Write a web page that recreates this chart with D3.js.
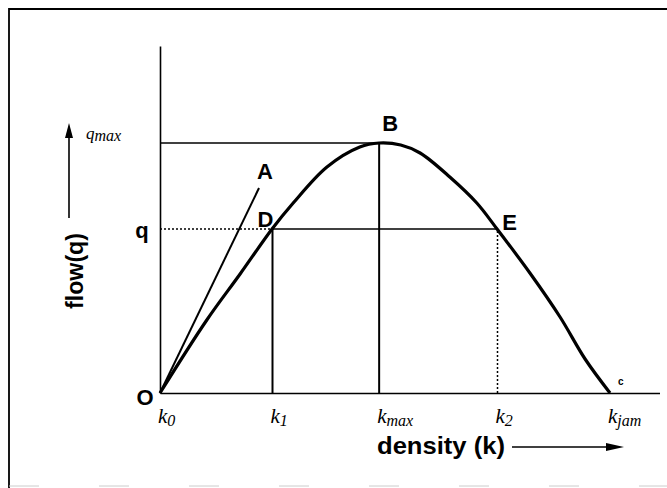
<!DOCTYPE html>
<html>
<head>
<meta charset="utf-8">
<script src="https://cdn.jsdelivr.net/npm/d3@7"></script>
<style>
  body { margin: 0; background: #fff; }
  .bold { font-family: "Liberation Sans", Arial, sans-serif; font-weight: bold; fill: #000; }
  .ital { font-family: "Liberation Serif", "Times New Roman", serif; font-style: italic; fill: #000; }
  .domain { stroke: #000; stroke-width: 1.6px; }
</style>
</head>
<body>
<script>
// density in % of k_jam, flow in % of q_max
const curveK = [0, 10.4, 17.8, 24.9, 29.6, 37.1, 44.4, 48.7, 53.5, 57.8, 64.4, 70.4, 74.9, 82.2, 88.9, 94.5, 100],
      curveQ = [0, 29.2, 47.6, 65.6, 76, 90.4, 98.4, 100, 99.2, 96, 86.4, 76, 65.6, 48, 30.4, 13.5, 0];

const tickNames = ['k0', 'k1', 'kmax', 'k2', 'kjam'],
      tickBase = ['k', 'k', 'k', 'k', 'k'],
      tickSub = ['0', '1', 'max', '2', 'jam'],
      tickK = [0, 25, 48.7, 75, 100];

const qValue = 65.6,
      qMax = 100,
      lineA = [[0, 0], [22, 82]];

const width = 667,
      height = 488;

const xScale = d3.scaleLinear().domain([0, 111]).range([160, 659.5]),
      yScale = d3.scaleLinear().domain([0, 138.8]).range([393, 46]);

const svg = d3.select('body')
              .append('svg')
              .attr('width', width)
              .attr('height', height);

// frame
svg.append('path')
   .attr('d', 'M9,488 V9 H667')
   .attr('fill', 'none')
   .attr('stroke', '#000')
   .attr('stroke-width', 1.8);

svg.append('line')
   .attr('x1', 9).attr('x2', 667)
   .attr('y1', 486).attr('y2', 486)
   .attr('stroke', '#ccc')
   .attr('stroke-width', 1)
   .attr('stroke-dasharray', '30,60');

// axes
svg.append('g')
   .attr('transform', 'translate(0,' + yScale(0) + ')')
   .call(d3.axisBottom(xScale).tickValues([]).tickSizeOuter(0));

svg.append('g')
   .attr('transform', 'translate(' + xScale(0) + ',0)')
   .call(d3.axisLeft(yScale).tickValues([]).tickSizeOuter(0));

// guide lines
const kMax = tickK[2], k1 = tickK[1], k2 = tickK[3];

svg.append('line')
   .attr('x1', xScale(0)).attr('x2', xScale(kMax))
   .attr('y1', yScale(qMax)).attr('y2', yScale(qMax))
   .attr('stroke', '#000').attr('stroke-width', 1.5);

svg.append('line')
   .attr('x1', xScale(0)).attr('x2', xScale(k1))
   .attr('y1', yScale(qValue)).attr('y2', yScale(qValue))
   .attr('stroke', '#000').attr('stroke-width', 1.5)
   .attr('stroke-dasharray', '2,2');

svg.append('line')
   .attr('x1', xScale(k1)).attr('x2', xScale(k2))
   .attr('y1', yScale(qValue)).attr('y2', yScale(qValue))
   .attr('stroke', '#000').attr('stroke-width', 1.5);

[k1, kMax].forEach(function(k) {
  svg.append('line')
     .attr('x1', xScale(k)).attr('x2', xScale(k))
     .attr('y1', yScale(0)).attr('y2', yScale(k === kMax ? qMax : qValue))
     .attr('stroke', '#000').attr('stroke-width', 2);
});

svg.append('line')
   .attr('x1', xScale(k2)).attr('x2', xScale(k2))
   .attr('y1', yScale(0)).attr('y2', yScale(qValue))
   .attr('stroke', '#000').attr('stroke-width', 1.5)
   .attr('stroke-dasharray', '2,2');

// tangent O-A
svg.append('line')
   .attr('x1', xScale(lineA[0][0])).attr('y1', yScale(lineA[0][1]))
   .attr('x2', xScale(lineA[1][0])).attr('y2', yScale(lineA[1][1]))
   .attr('stroke', '#000').attr('stroke-width', 2);

// flow-density curve
const line = d3.line()
               .x((d, i) => xScale(curveK[i]))
               .y((d, i) => yScale(curveQ[i]))
               .curve(d3.curveCatmullRom);

svg.append('path')
   .datum(curveK)
   .attr('d', line)
   .attr('fill', 'none')
   .attr('stroke', '#000')
   .attr('stroke-width', 3.2);

// point labels
const pointLabels = [
  { t: 'A', x: xScale(lineA[1][0]) + 6, y: yScale(lineA[1][1]) - 17 },
  { t: 'B', x: xScale(kMax) + 11, y: yScale(qMax) - 20 },
  { t: 'D', x: xScale(k1) - 7, y: yScale(qValue) - 10 },
  { t: 'E', x: xScale(k2) + 12, y: yScale(qValue) - 7 },
  { t: 'O', x: xScale(0) - 15, y: yScale(0) + 4 },
  { t: 'q', x: xScale(0) - 18, y: yScale(qValue) + 1 }
];

svg.selectAll('.pt')
   .data(pointLabels)
   .enter()
   .append('text')
   .attr('class', 'bold pt')
   .attr('x', d => d.x)
   .attr('y', d => d.y)
   .attr('text-anchor', 'middle')
   .attr('dominant-baseline', 'central')
   .style('font-size', '22px')
   .text(d => d.t);

svg.append('text')
   .attr('class', 'bold')
   .attr('x', xScale(tickK[4]) + 8)
   .attr('y', yScale(0) - 8)
   .style('font-size', '10px')
   .text('c');

// tick labels
const ticks = svg.selectAll('.tick-label')
                 .data(tickNames)
                 .enter()
                 .append('text')
                 .attr('class', 'ital tick-label')
                 .attr('x', (d, i) => xScale(tickK[i]) - 2)
                 .attr('y', yScale(0) + 30)
                 .style('font-size', '21px');

ticks.append('tspan').text((d, i) => tickBase[i]);
ticks.append('tspan')
     .attr('dy', 3)
     .style('font-size', '16px')
     .text((d, i) => tickSub[i]);

// q_max label
const qmaxLabel = svg.append('text')
                     .attr('class', 'ital')
                     .attr('x', 86)
                     .attr('y', yScale(qMax) - 4)
                     .style('font-size', '17px');
qmaxLabel.append('tspan').text('q');
qmaxLabel.append('tspan').attr('dy', 2).style('font-size', '16px').text('max');

// axis titles with arrows
svg.append('text')
   .attr('class', 'bold')
   .attr('transform', 'translate(74,271) rotate(-90)')
   .attr('text-anchor', 'middle')
   .attr('dominant-baseline', 'central')
   .attr('textLength', 76)
   .attr('lengthAdjust', 'spacingAndGlyphs')
   .style('font-size', '24px')
   .text('flow(q)');

svg.append('line')
   .attr('x1', 69).attr('x2', 69)
   .attr('y1', 218).attr('y2', 134)
   .attr('stroke', '#000').attr('stroke-width', 1.6);
svg.append('path')
   .attr('d', 'M69,123 L65,138 L73,138 Z')
   .attr('fill', '#000');

svg.append('text')
   .attr('class', 'bold')
   .attr('x', 377)
   .attr('y', 454)
   .attr('textLength', 128)
   .attr('lengthAdjust', 'spacingAndGlyphs')
   .style('font-size', '24px')
   .text('density (k)');

svg.append('line')
   .attr('x1', 512).attr('x2', 610)
   .attr('y1', 447).attr('y2', 447)
   .attr('stroke', '#000').attr('stroke-width', 1.6);
svg.append('path')
   .attr('d', 'M624,447 L606,443 L606,451 Z')
   .attr('fill', '#000');
</script>
</body>
</html>
